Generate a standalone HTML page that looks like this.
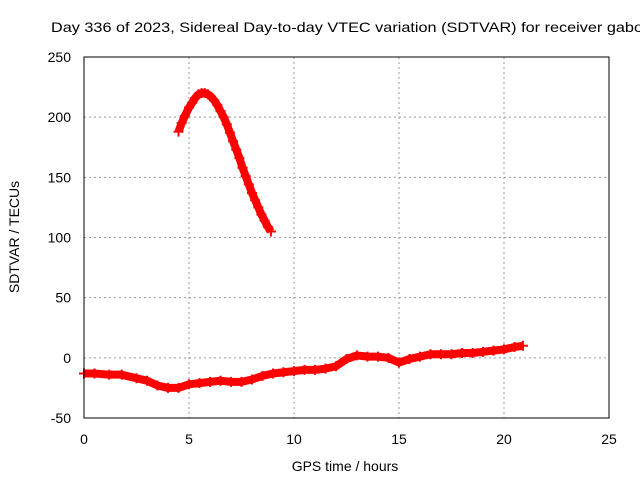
<!DOCTYPE html>
<html><head><meta charset="utf-8"><style>body{margin:0;background:#fff}svg{display:block;font-family:"Liberation Sans",sans-serif}</style></head>
<body>
<svg id="chart" width="640" height="480" viewBox="0 0 640 480">
<rect width="640" height="480" fill="#fff"/>
<text x="51" y="32" font-size="14" textLength="592" lengthAdjust="spacingAndGlyphs" fill="#000">Day 336 of 2023, Sidereal Day-to-day VTEC variation (SDTVAR) for receiver gabo</text>
<g id="grid"></g><g id="ticks"></g><g id="marks"></g>
<rect x="84" y="57" width="525" height="361" fill="none" stroke="#000" stroke-width="1"/>
<text x="345" y="471" font-size="14" text-anchor="middle">GPS time / hours</text>
<text transform="translate(19,237) rotate(-90)" font-size="14" text-anchor="middle">SDTVAR / TECUs</text>
</svg>
<script>
const xTicks=[0,5,10,15,20,25];
const yTicks=[-50,0,50,100,150,200,250];
const s1x=[4.5,4.65,4.8,5.0,5.15,5.3,5.45,5.6,5.75,5.9,6.05,6.2,6.35,6.5,6.65,6.8,6.95,7.1,7.25,7.4,7.55,7.7,7.85,8.0,8.15,8.3,8.45,8.6,8.75,8.9];
const s1y=[188,195,201,208,212,216,219,220,220,219,217,214,210,205,200,194,187,180,173,166,158,151,144,137,131,125,119,114,109,105];
const s2x=[0,0.5,1.2,1.8,2.5,3.0,3.5,4.0,4.5,5.0,5.5,6.0,6.5,7.0,7.5,8.0,8.5,9.0,9.5,10,10.5,11,11.5,12,12.5,13,13.5,14,14.5,15,15.5,16,16.5,17,17.5,18,18.5,19,19.5,20,20.5,20.9];
const s2y=[-13,-13,-14,-14,-17,-19,-23,-25,-25,-22,-21,-20,-19,-20,-20,-18,-15,-13,-12,-11,-10,-10,-9,-7,-1,2,1,1,0,-4,-1,1,3,3,3,4,4,5,6,7,9,10];
const NS='http://www.w3.org/2000/svg';
const X=v=>84+v*21, Y=v=>418-(v+50)*361/300;
function mk(t,a,p){const e=document.createElementNS(NS,t);for(const k in a)e.setAttribute(k,a[k]);p.appendChild(e);return e;}
const grid=document.getElementById('grid'),ticks=document.getElementById('ticks'),marks=document.getElementById('marks');
xTicks.forEach(v=>{
 const x=X(v);
 if(v>0&&v<25){const g=mk('line',{x1:x,x2:x,y1:57,y2:418,stroke:'#999','stroke-dasharray':'2,3'},grid);
 
 }
 const t=mk('text',{x:x,y:444,'font-size':14,'text-anchor':'middle'},ticks);t.textContent=v;
 
 
});
yTicks.forEach(v=>{
 const y=Y(v);
 if(v>-50&&v<250){const g=mk('line',{x1:84,x2:609,y1:y,y2:y,stroke:'#999','stroke-dasharray':'2,3'},grid);
 
 }
 const t=mk('text',{x:71,y:y+5,'font-size':14,'text-anchor':'end'},ticks);t.textContent=v;
 
 
});
function series(xs,ys,name){
 const pts=xs.map((x,i)=>X(x)+','+Y(ys[i])).join(' ');
 const l=mk('polyline',{points:pts,fill:'none',stroke:'#f00','stroke-width':8,'stroke-linejoin':'round'},marks);
 
 
 xs.forEach((x,i)=>{
  const cx=X(x),cy=Y(ys[i]);
  const p=mk('path',{d:`M${cx-5},${cy}h10M${cx},${cy-5}v10`,stroke:'#f00','stroke-width':2},marks);
  
  
 });
}
series(s1x,s1y,'series-high-arc');
series(s2x,s2y,'series-main');
</script>
</body></html>
